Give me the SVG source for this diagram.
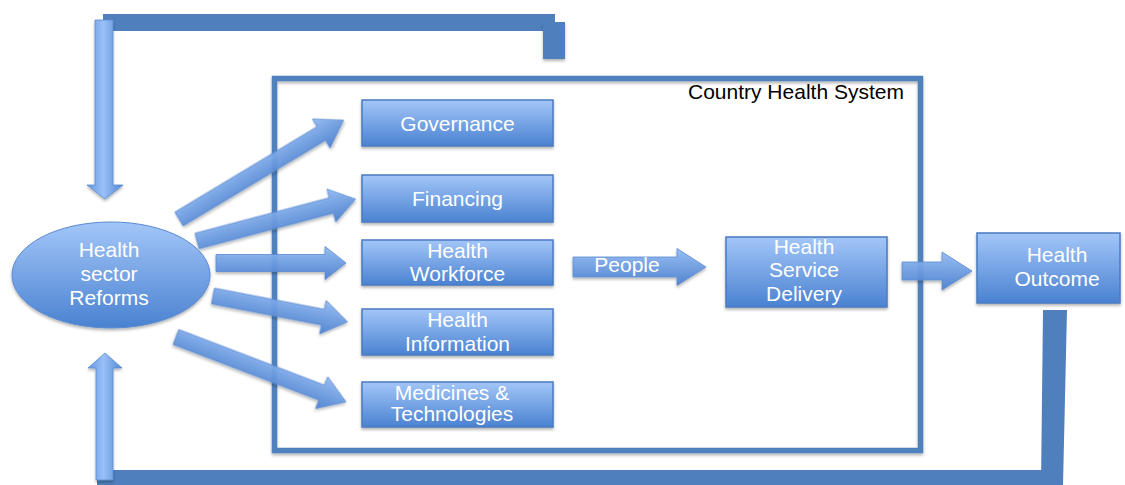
<svg xmlns="http://www.w3.org/2000/svg" width="1125" height="485" viewBox="0 0 1125 485">
<defs>
<linearGradient id="boxg" x1="0" y1="0" x2="0" y2="1">
<stop offset="0" stop-color="#A3C6F8"/>
<stop offset="1" stop-color="#4A82D1"/>
</linearGradient>
<linearGradient id="arrg" x1="0" y1="0" x2="0" y2="1">
<stop offset="0" stop-color="#93BBF4"/>
<stop offset="1" stop-color="#4A80CF"/>
</linearGradient>
<linearGradient id="vg" x1="0" y1="0" x2="1" y2="0">
<stop offset="0" stop-color="#6396DF"/>
<stop offset="0.45" stop-color="#9AC0F7"/>
<stop offset="1" stop-color="#5289D6"/>
</linearGradient>
<filter id="sh" x="-10%" y="-10%" width="120%" height="130%">
<feDropShadow dx="0" dy="2" stdDeviation="1.5" flood-color="#000" flood-opacity="0.3"/>
</filter>
</defs>
<style>
.box{fill:url(#boxg);stroke:#4A7BC0;stroke-width:1.5;filter:url(#sh)}
.arr{fill:url(#arrg);stroke:#5A8AD0;stroke-width:0.8;fill-opacity:0.93;filter:url(#sh)}
.varr{fill:url(#vg);stroke:#5A8AD0;stroke-width:0.8;filter:url(#sh)}
.bar{fill:#4F80BD}
.t{font-family:"Liberation Sans",Arial,sans-serif;font-size:21px;fill:#fff;text-anchor:middle}
.lbl{font-family:"Liberation Sans",Arial,sans-serif;font-size:21px;fill:#000}
</style>
<rect width="1125" height="485" fill="#fff"/>

<g id="feedback">
<rect class="bar" x="103" y="14" width="452" height="17"/>
<rect class="bar" x="543" y="22" width="22" height="37" filter="url(#sh)"/>
<rect class="bar" x="97" y="470" width="966" height="15"/>
<polygon class="bar" points="1043,310 1067,310 1063,485 1041,485"/>
</g>

<g id="container">
<rect x="274.5" y="78.5" width="646" height="372" fill="none" stroke="#4F81BD" stroke-width="5.5" filter="url(#sh)"/>
<text class="lbl" x="688" y="99">Country Health System</text>
</g>

<g id="connectors">
<polygon class="varr" points="95,20 113,20 113,185 123,185 105,199 87,185 95,185"/>
<polygon class="varr" points="96,480 113,480 113,368 122,368 105,353 88,368 96,368"/>
<polygon class="arr" transform="translate(179,219) rotate(-31)" points="0,-8 166,-8 166,-17 192,0 166,17 166,8 0,8"/>
<polygon class="arr" transform="translate(197,241) rotate(-14.8)" points="0,-8 139,-8 139,-17 164,0 139,17 139,8 0,8"/>
<polygon class="arr" transform="translate(216,263)" points="0,-8.5 109,-8.5 109,-16.5 130,0 109,16.5 109,8.5 0,8.5"/>
<polygon class="arr" transform="translate(213,296) rotate(10.9)" points="0,-8 112,-8 112,-17 137,0 112,17 112,8 0,8"/>
<polygon class="arr" transform="translate(176,337) rotate(20.9)" points="0,-8 156,-8 156,-17 182,0 156,17 156,8 0,8"/>
<g id="people">
<polygon class="arr" transform="translate(573,267)" points="0,-10 104,-10 104,-18.5 133,0 104,18.5 104,10 0,10"/>
<text class="t" x="627" y="272" font-size="20">People</text>
</g>
<polygon class="arr" transform="translate(902,271)" points="0,-9 40,-9 40,-19 70,0 40,19 40,9 0,9"/>
</g>

<g id="reforms">
<ellipse cx="111" cy="275" rx="99" ry="53" fill="url(#boxg)" stroke="#5A8AD0" stroke-width="1" filter="url(#sh)"/>
<text class="t" x="109" y="257">Health</text>
<text class="t" x="109" y="281">sector</text>
<text class="t" x="109" y="305">Reforms</text>
</g>

<g id="governance">
<rect class="box" x="362" y="100" width="191" height="46"/>
<text class="t" x="457.5" y="131">Governance</text>
</g>
<g id="financing">
<rect class="box" x="362" y="175" width="191" height="47"/>
<text class="t" x="457.5" y="206">Financing</text>
</g>
<g id="workforce">
<rect class="box" x="362" y="240" width="191" height="45"/>
<text class="t" x="457.5" y="258">Health</text>
<text class="t" x="457.5" y="281">Workforce</text>
</g>
<g id="information">
<rect class="box" x="362" y="309" width="191" height="46"/>
<text class="t" x="457.5" y="327">Health</text>
<text class="t" x="457.5" y="351">Information</text>
</g>
<g id="medicines">
<rect class="box" x="362" y="382" width="191" height="45"/>
<text class="t" x="452" y="400">Medicines &amp;</text>
<text class="t" x="452" y="421">Technologies</text>
</g>
<g id="delivery">
<rect class="box" x="726" y="237" width="161" height="70"/>
<text class="t" x="804" y="254">Health</text>
<text class="t" x="804" y="277">Service</text>
<text class="t" x="804" y="301">Delivery</text>
</g>
<g id="outcome">
<rect class="box" x="977" y="233" width="143" height="70"/>
<text class="t" x="1057" y="262">Health</text>
<text class="t" x="1057" y="286">Outcome</text>
</g>
</svg>
